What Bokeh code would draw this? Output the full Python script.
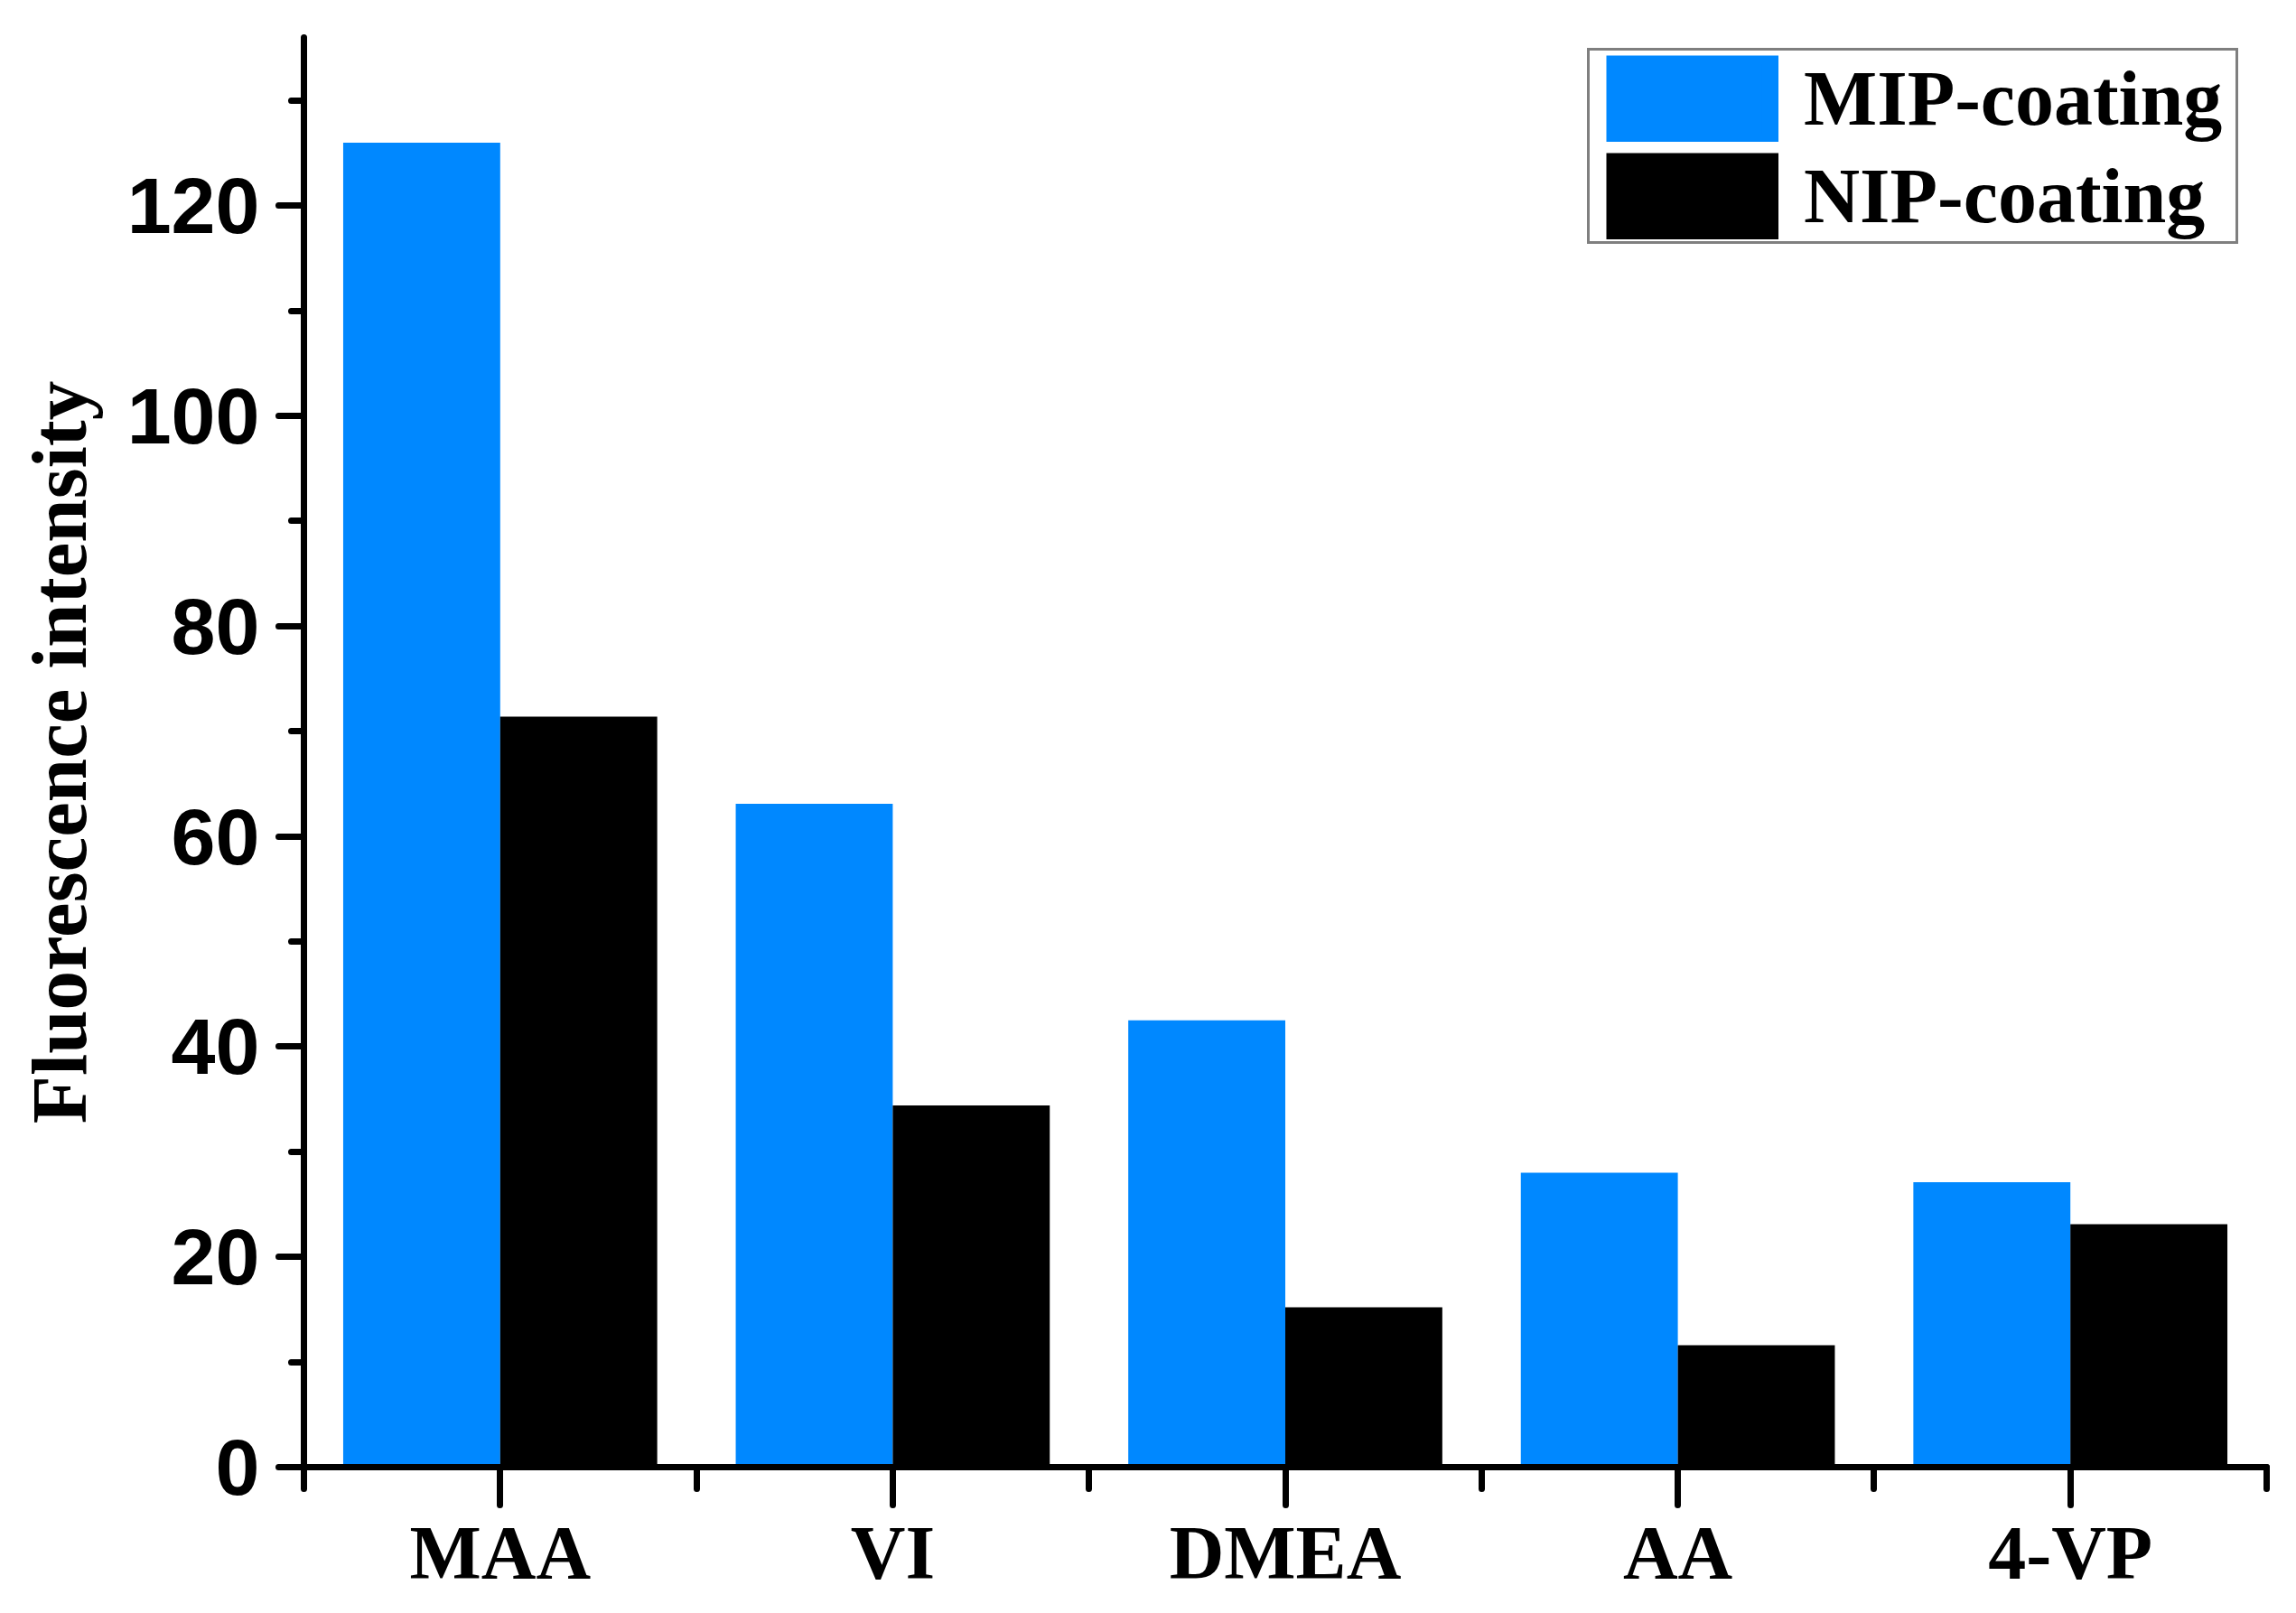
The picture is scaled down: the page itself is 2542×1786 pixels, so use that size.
from bokeh.plotting import figure
from bokeh.models import Range1d, FixedTicker, SingleIntervalTicker, Legend, LegendItem
from bokeh.embed import file_html
from bokeh.resources import INLINE

categories = ["MAA", "VI", "DMEA", "AA", "4-VP"]
series_names = ["MIP-coating", "NIP-coating"]
mip_values = [126.0, 63.1, 42.5, 28.0, 27.1]
nip_values = [71.4, 34.4, 15.2, 11.6, 23.1]
y_max = 136

BLUE = "#0088FF"
W, H = 2526, 1770

p = figure(width=W, height=H, output_backend="svg", toolbar_location=None,
           x_range=Range1d(-0.5, len(categories) - 0.5), y_range=Range1d(0, y_max),
           min_border_left=336, min_border_right=17, min_border_top=41, min_border_bottom=146)
p.background_fill_color = "white"
p.border_fill_color = "white"
p.outline_line_color = None
p.xgrid.visible = False
p.ygrid.visible = False

idx = list(range(len(categories)))
bw = 0.4
r1 = p.vbar(x=[i - bw / 2 for i in idx], top=mip_values, bottom=0, width=bw,
            fill_color=BLUE, line_color=None)
r2 = p.vbar(x=[i + bw / 2 for i in idx], top=nip_values, bottom=0, width=bw,
            fill_color="black", line_color=None)
# legend swatches only (a single undefined point: nothing is drawn in the plot)
nan = float("nan")
sw1 = p.line(x=[nan], y=[nan], line_color=BLUE, line_width=96)
sw2 = p.line(x=[nan], y=[nan], line_color="black", line_width=96)

# Y axis
ya = p.yaxis[0]
ya.ticker = SingleIntervalTicker(interval=20, num_minor_ticks=2)
ya.axis_label = "Fluorescence intensity"
ya.axis_label_text_font = "Liberation Serif"
ya.axis_label_text_font_style = "bold"
ya.axis_label_text_font_size = "87px"
ya.axis_label_text_color = "black"
ya.axis_label_standoff = 24
ya.major_label_text_font = "Liberation Sans"
ya.major_label_text_font_style = "bold"
ya.major_label_text_font_size = "88px"
ya.major_label_text_color = "black"
ya.major_label_standoff = 21

# X axis
xa = p.xaxis[0]
xa.ticker = FixedTicker(ticks=idx, minor_ticks=[i - 0.5 for i in range(len(categories) + 1)])
xa.major_label_overrides = {i: c for i, c in zip(idx, categories)}
xa.major_label_text_font = "Liberation Serif"
xa.major_label_text_font_style = "bold"
xa.major_label_text_font_size = "84px"
xa.major_label_text_color = "black"
xa.major_label_standoff = 6

for ax, mo, mi in ((ya, 28, 14), (xa, 42, 24)):
    ax.axis_line_width = 7
    ax.axis_line_color = "black"
    ax.axis_line_cap = "round"
    ax.major_tick_line_width = 7
    ax.minor_tick_line_width = 7
    ax.major_tick_line_color = "black"
    ax.minor_tick_line_color = "black"
    ax.major_tick_line_cap = "round"
    ax.minor_tick_line_cap = "round"
    ax.major_tick_in = 0
    ax.minor_tick_in = 0
    ax.major_tick_out = mo
    ax.minor_tick_out = mi

legend = Legend(items=[LegendItem(label=series_names[0], renderers=[sw1, r1]),
                       LegendItem(label=series_names[1], renderers=[sw2, r2])],
                location=(1421, 1354))
legend.margin = 0
legend.padding = dict(left=18, right=15, top=3, bottom=0)
legend.spacing = 8
legend.glyph_width = 191
legend.glyph_height = 96
legend.label_standoff = 28
legend.label_width = 454
legend.label_height = 20
legend.label_text_font = "Liberation Serif"
legend.label_text_font_style = "bold"
legend.label_text_font_size = "86px"
legend.label_text_color = "black"
legend.label_text_baseline = "middle"
legend.border_line_color = "black"
legend.border_line_width = 3
legend.background_fill_color = "white"
legend.background_fill_alpha = 1.0
p.add_layout(legend, "center")

open("out.html", "w").write(file_html(p, INLINE))
